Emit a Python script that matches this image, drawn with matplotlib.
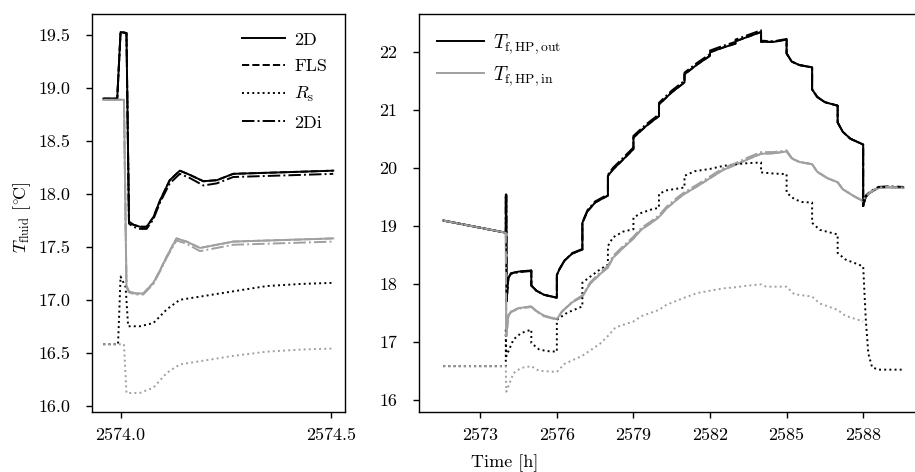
import numpy as np
import matplotlib
matplotlib.use("Agg")
import matplotlib.pyplot as plt

plt.rcParams.update({
    "font.family": "serif", "font.serif": ["cmr10"], "mathtext.fontset": "cm",
    "axes.formatter.use_mathtext": True, "font.size": 13,
    "axes.linewidth": 1.0, "xtick.major.width": 1.0, "ytick.major.width": 1.0,
    "xtick.major.size": 4.5, "ytick.major.size": 4.5,
    "xtick.major.pad": 6.5, "ytick.major.pad": 11,
})

C_OUT, C_IN = "k", "#a0a0a0"
LW = 1.4
MODELS = ["2D", "FLS", r"$R_\mathrm{s}$", "2Di"]
STYLES = ["-", "--", ":", "-."]

# ---- left panel: zoom on the switch-on at t = 2574 h -------------------------
tl_out = [2573.959, 2573.992, 2574.0, 2574.014, 2574.02, 2574.03, 2574.046, 2574.062, 2574.078,
          2574.094, 2574.117, 2574.141, 2574.165, 2574.197, 2574.229, 2574.268, 2574.348, 2574.43, 2574.506]
l_2d_out = [18.90, 18.90, 19.53, 19.52, 17.74, 17.71, 17.69, 17.69, 17.78, 17.94, 18.13, 18.22,
            18.18, 18.12, 18.13, 18.19, 18.20, 18.21, 18.22]
l_2di_out = [18.90, 18.90, 19.53, 19.52, 17.72, 17.69, 17.67, 17.67, 17.76, 17.92, 18.10, 18.19,
             18.15, 18.08, 18.10, 18.16, 18.17, 18.18, 18.19]
tl_in = [2573.959, 2574.008, 2574.014, 2574.02, 2574.035, 2574.054, 2574.078, 2574.094, 2574.11,
         2574.133, 2574.157, 2574.189, 2574.229, 2574.268, 2574.348, 2574.43, 2574.506]
l_2d_in = [18.89, 18.89, 17.13, 17.08, 17.06, 17.06, 17.16, 17.28, 17.41, 17.58, 17.55, 17.49,
           17.52, 17.55, 17.56, 17.57, 17.58]
l_2di_in = [18.89, 18.89, 17.12, 17.07, 17.05, 17.05, 17.15, 17.27, 17.40, 17.56, 17.53, 17.46,
            17.49, 17.52, 17.53, 17.54, 17.55]
tl_rs_out = [2573.959, 2573.994, 2574.0, 2574.012, 2574.018, 2574.046, 2574.078, 2574.11, 2574.141,
             2574.189, 2574.268, 2574.348, 2574.43, 2574.506]
l_rs_out = [16.58, 16.58, 17.22, 17.12, 16.75, 16.75, 16.78, 16.91, 17.00, 17.03, 17.08, 17.13, 17.15, 17.16]
tl_rs_in = [2573.959, 2574.008, 2574.014, 2574.046, 2574.078, 2574.11, 2574.141, 2574.189, 2574.268,
            2574.348, 2574.43, 2574.506]
l_rs_in = [16.58, 16.58, 16.12, 16.12, 16.17, 16.31, 16.39, 16.42, 16.47, 16.51, 16.53, 16.54]

# ---- right panel: whole operating period ------------------------------------
tr = [2571.55, 2574.0, 2574.0, 2574.02, 2574.03, 2574.1, 2574.2, 2574.5, 2575.0, 2575.0, 2575.2, 2575.5,
      2576.0, 2576.0, 2576.1, 2576.3, 2576.6, 2577.0, 2577.0, 2577.2, 2577.5, 2578.0, 2578.0, 2578.2,
      2578.5, 2579.0, 2579.0, 2579.5, 2580.0, 2580.0, 2580.5, 2581.0, 2581.0, 2581.5, 2582.0, 2582.0,
      2582.5, 2583.0, 2583.0, 2583.5, 2584.0, 2584.0, 2584.5, 2585.0, 2585.0, 2585.2, 2585.5, 2586.0,
      2586.0, 2586.2, 2586.5, 2587.0, 2587.0, 2587.2, 2587.5, 2588.0, 2588.0, 2588.1, 2588.3, 2588.6,
      2589.0, 2589.57]
r_2d_out = [19.09, 18.88, 19.54, 19.54, 17.70, 18.10, 18.18, 18.21, 18.23, 17.97, 17.88, 17.81,
            17.76, 18.15, 18.25, 18.40, 18.52, 18.59, 19.05, 19.25, 19.40, 19.52, 19.86, 19.97,
            20.10, 20.32, 20.52, 20.72, 20.89, 21.09, 21.30, 21.47, 21.61, 21.78, 21.93, 21.99,
            22.07, 22.14, 22.18, 22.26, 22.34, 22.17, 22.17, 22.21, 21.97, 21.83, 21.77, 21.73,
            21.35, 21.22, 21.13, 21.07, 20.78, 20.62, 20.50, 20.40, 19.34, 19.50, 19.58, 19.66,
            19.67, 19.66]
r_2di_out = [19.09, 18.88, 19.54, 19.54, 17.70, 18.10, 18.17, 18.20, 18.22, 17.97, 17.88, 17.81,
             17.76, 18.15, 18.25, 18.40, 18.53, 18.60, 19.06, 19.27, 19.42, 19.54, 19.88, 20.00,
             20.13, 20.35, 20.55, 20.75, 20.92, 21.12, 21.33, 21.50, 21.64, 21.81, 21.96, 22.02,
             22.10, 22.17, 22.21, 22.29, 22.37, 22.19, 22.18, 22.22, 21.97, 21.83, 21.77, 21.73,
             21.35, 21.22, 21.13, 21.07, 20.78, 20.62, 20.50, 20.40, 19.34, 19.52, 19.60, 19.67,
             19.68, 19.67]
tr_in = [2571.55, 2574.0, 2574.02, 2574.1, 2574.2, 2574.5, 2575.0, 2575.2, 2575.5, 2576.0, 2576.2,
         2576.6, 2577.0, 2577.3, 2577.7, 2578.0, 2578.2, 2578.6, 2579.0, 2579.3, 2579.7, 2580.0,
         2580.3, 2580.7, 2581.0, 2581.5, 2582.0, 2582.5, 2583.0, 2583.5, 2584.0, 2584.5, 2585.0,
         2585.2, 2585.5, 2586.0, 2586.2, 2586.6, 2587.0, 2587.2, 2587.6, 2588.0, 2588.1, 2588.3,
         2588.6, 2589.0, 2589.57]
r_2d_in = [19.09, 18.88, 17.10, 17.45, 17.52, 17.58, 17.61, 17.53, 17.45, 17.39, 17.52, 17.68,
           17.78, 18.00, 18.17, 18.28, 18.45, 18.62, 18.78, 18.93, 19.05, 19.15, 19.30, 19.45,
           19.55, 19.68, 19.82, 19.96, 20.05, 20.15, 20.24, 20.25, 20.28, 20.16, 20.10, 20.06,
           19.93, 19.82, 19.75, 19.63, 19.52, 19.42, 19.50, 19.58, 19.65, 19.66, 19.65]
r_2di_in = [19.09, 18.88, 17.10, 17.44, 17.51, 17.57, 17.60, 17.52, 17.44, 17.38, 17.52, 17.69,
            17.80, 18.02, 18.20, 18.31, 18.48, 18.65, 18.81, 18.96, 19.08, 19.18, 19.33, 19.48,
            19.58, 19.71, 19.85, 19.99, 20.08, 20.18, 20.27, 20.27, 20.30, 20.17, 20.10, 20.06,
            19.93, 19.82, 19.75, 19.63, 19.52, 19.43, 19.51, 19.59, 19.66, 19.67, 19.66]
tr_rs_out = [2571.55, 2574.0, 2574.0, 2574.02, 2574.3, 2574.6, 2575.0, 2575.0, 2575.3, 2575.6, 2576.0,
             2576.0, 2576.4, 2577.0, 2577.0, 2577.3, 2577.7, 2578.0, 2578.0, 2578.2, 2578.6, 2579.0,
             2579.0, 2579.3, 2579.7, 2580.0, 2580.0, 2580.3, 2581.0, 2581.0, 2581.4, 2582.0, 2582.5,
             2583.0, 2583.5, 2584.0, 2584.0, 2584.5, 2585.0, 2585.0, 2585.3, 2585.6, 2586.0, 2586.0,
             2586.3, 2587.0, 2587.0, 2587.3, 2588.0, 2588.1, 2588.2, 2588.35, 2588.6, 2589.57]
r_rs_out = [16.58, 16.58, 17.20, 16.75, 17.04, 17.15, 17.21, 16.98, 16.87, 16.84, 16.83,
            17.38, 17.50, 17.61, 18.02, 18.12, 18.25, 18.33, 18.65, 18.80, 18.90, 18.94,
            19.14, 19.22, 19.28, 19.31, 19.55, 19.61, 19.66, 19.86, 19.94, 19.98, 20.03,
            20.06, 20.08, 20.09, 19.92, 19.90, 19.89, 19.57, 19.46, 19.41, 19.40, 19.05,
            18.93, 18.85, 18.53, 18.42, 18.30, 17.40, 16.80, 16.56, 16.52, 16.52]
tr_rs_in = [2571.55, 2574.0, 2574.02, 2574.3, 2574.6, 2575.0, 2575.3, 2576.0, 2576.3, 2577.0, 2577.3,
            2577.7, 2578.0, 2578.3, 2579.0, 2579.3, 2580.0, 2580.3, 2581.0, 2581.5, 2582.0, 2582.5,
            2583.0, 2583.5, 2584.0, 2584.2, 2585.0, 2585.3, 2586.0, 2586.3, 2587.0, 2587.3, 2588.0]
r_rs_in = [16.58, 16.58, 16.14, 16.46, 16.55, 16.58, 16.50, 16.48, 16.62, 16.76, 16.85, 16.97,
           17.10, 17.25, 17.35, 17.44, 17.55, 17.64, 17.76, 17.84, 17.88, 17.92, 17.94, 17.97,
           17.99, 17.95, 17.95, 17.82, 17.78, 17.66, 17.55, 17.45, 17.35]

# FLS lies on top of the 2D curves in both panels
left = {"out": [(tl_out, l_2d_out), (tl_out, l_2d_out), (tl_rs_out, l_rs_out), (tl_out, l_2di_out)],
        "in": [(tl_in, l_2d_in), (tl_in, l_2d_in), (tl_rs_in, l_rs_in), (tl_in, l_2di_in)]}
right = {"out": [(tr, r_2d_out), (tr, r_2d_out), (tr_rs_out, r_rs_out), (tr, r_2di_out)],
         "in": [(tr_in, r_2d_in), (tr_in, r_2d_in), (tr_rs_in, r_rs_in), (tr_in, r_2di_in)]}

fig = plt.figure(figsize=(9.15, 4.72), dpi=100)
W, H = 915, 472
ax1 = fig.add_axes([92 / W, 1 - 412 / H, (345 - 92) / W, (412 - 14) / H])
ax2 = fig.add_axes([419 / W, 1 - 412 / H, (927 - 419) / W, (412 - 14) / H])

for ax, d in ((ax1, left), (ax2, right)):
    for i, ls in enumerate(STYLES):
        ax.plot(*d["out"][i], color=C_OUT, ls=ls, lw=LW)
        ax.plot(*d["in"][i], color=C_IN, ls=ls, lw=LW)

ax1.set_xlim(2573.932, 2574.534); ax1.set_ylim(15.94, 19.70)
ax1.set_xticks([2574.0, 2574.5]); ax1.set_xticklabels(["2574.0", "2574.5"])
ax1.set_yticks(np.arange(16.0, 19.6, 0.5))
ax1.set_yticklabels([f"{v:.1f}" for v in np.arange(16.0, 19.6, 0.5)])
ax1.set_ylabel(r"$T_\mathrm{fluid}$ [$^{\circ}\!$C]", fontsize=13)
ax1.yaxis.set_label_coords(-0.235, 0.49)
h = [plt.Line2D([], [], color="k", ls=ls, lw=LW) for ls in STYLES]
ax1.legend(h, MODELS, loc="upper right", frameon=False, handlelength=2.4,
           labelspacing=0.6, borderaxespad=0.6, handletextpad=0.5)

ax2.set_xlim(2570.6, 2590.5); ax2.set_ylim(15.79, 22.65)
ax2.set_xticks(np.arange(2573, 2589, 3)); ax2.set_xticklabels([str(v) for v in range(2573, 2589, 3)])
ax2.set_yticks(range(16, 23)); ax2.set_yticklabels([str(v) for v in range(16, 23)])
h2 = [plt.Line2D([], [], color=C_OUT, lw=LW), plt.Line2D([], [], color=C_IN, lw=LW)]
ax2.legend(h2, [r"$T_\mathrm{f,HP,out}$", r"$T_\mathrm{f,HP,in}$"], loc="upper left",
           frameon=False, handlelength=2.4, labelspacing=0.4, borderaxespad=0.55,
           handletextpad=0.45, prop={"size": 14})
fig.text(505 / W, 1 - 463 / H, "Time [h]", ha="center", va="center")

fig.savefig("out.png", dpi=100)
